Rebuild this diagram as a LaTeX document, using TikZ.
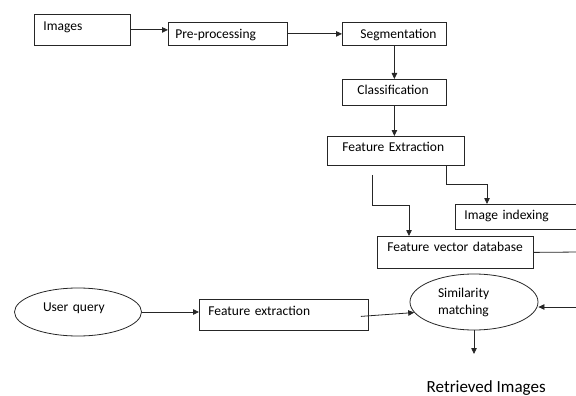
\documentclass[tikz,border=0pt]{standalone}
\usepackage{fontspec}
\setmainfont{Carlito}
\usetikzlibrary{arrows.meta, positioning, shapes.geometric}
\hyphenpenalty=10000
\exhyphenpenalty=10000

\begin{document}
\begin{tikzpicture}[x=1pt, y=-1pt, ->, >={Triangle[length=6pt, width=5.5pt]},
        line width=0.8pt, draw=black!85,
        every node/.style={font=\fontsize{13.5}{17}\selectfont},
        box/.style={rectangle, draw, anchor=north west, align=left, inner ysep=0pt,
            text height=11pt, text depth=2pt},
        oval/.style={ellipse, draw, inner sep=0pt, align=left}]
    \useasboundingbox (0,0) rectangle (576,396);

      % Boxes
      \node[box, text width=78pt, inner xsep=9pt, minimum height=31pt, text depth=9pt] (images) at (34,14) {Images};
      \node[box, text width=105pt, inner xsep=7pt, minimum height=23pt] (preProcessing) at (168,22) {Pre-processing};
      \node[box, text width=68pt, inner xsep=18pt, minimum height=23pt] (segmentation) at (342,22) {Segmentation};
      \node[box, text width=74pt, inner xsep=15pt, minimum height=26pt, text depth=6pt] (classification) at (342,79) {Classification};
      \node[box, text width=107pt, inner xsep=15pt, minimum height=29pt, text depth=9pt] (featureExtraction) at (327,136) {Feature Extraction};
      \node[box, text width=132pt, inner xsep=9pt, minimum height=25pt, text depth=6pt] (imageIndexing) at (455,204) {Image indexing};
      \node[box, text width=136pt, inner xsep=10pt, minimum height=32pt, text depth=13pt] (featureDb) at (377,236) {Feature vector database};
      \node[box, text width=151pt, inner xsep=9pt, minimum height=31pt, text depth=9pt] (queryExtraction) at (199,299) {Feature extraction};

      % Query side
      \node[oval, minimum width=127pt, minimum height=48pt, text width=70pt, text height=11pt, text depth=12pt] (userQuery) at (78,312) {User query};
      \node[oval, minimum width=128pt, minimum height=56pt, text width=72pt] (similarity) at (474,302) {Similarity\\matching};
      \node[anchor=base west, font=\fontsize{17}{20}\selectfont] (retrieved) at (423,392) {Retrieved Images};

      % Free ends
      \coordinate (dbOut) at (580,252);
      \coordinate (simIn) at (580,307);
      \coordinate (simOut) at (474,354);

      % Transitions
      \draw (images.east) -- (images.east -| preProcessing.west);
      \draw (preProcessing.east) -- (segmentation.west);
      \draw (segmentation.south) -- (classification.north);
      \draw (classification.south) -- (classification.south |- featureExtraction.north);
      \draw ([xshift=-18pt]featureExtraction.south east) -- ++(0,19) -| ([xshift=32pt]imageIndexing.north west);
      \draw ([xshift=45pt, yshift=-9pt]featureExtraction.south west) -- ++(0,31) -| ([xshift=32pt]featureDb.north west);
      \draw[-] (featureDb.east) -- (dbOut);
      \draw (userQuery.east) -- (userQuery.east -| queryExtraction.west);
      \draw ([xshift=-8pt, yshift=-1.5pt]queryExtraction.east) -- (similarity.190);
      \draw (simIn) -- (simIn -| similarity.east);
      \draw (similarity.south) -- (simOut);

    \end{tikzpicture}
\end{document}
